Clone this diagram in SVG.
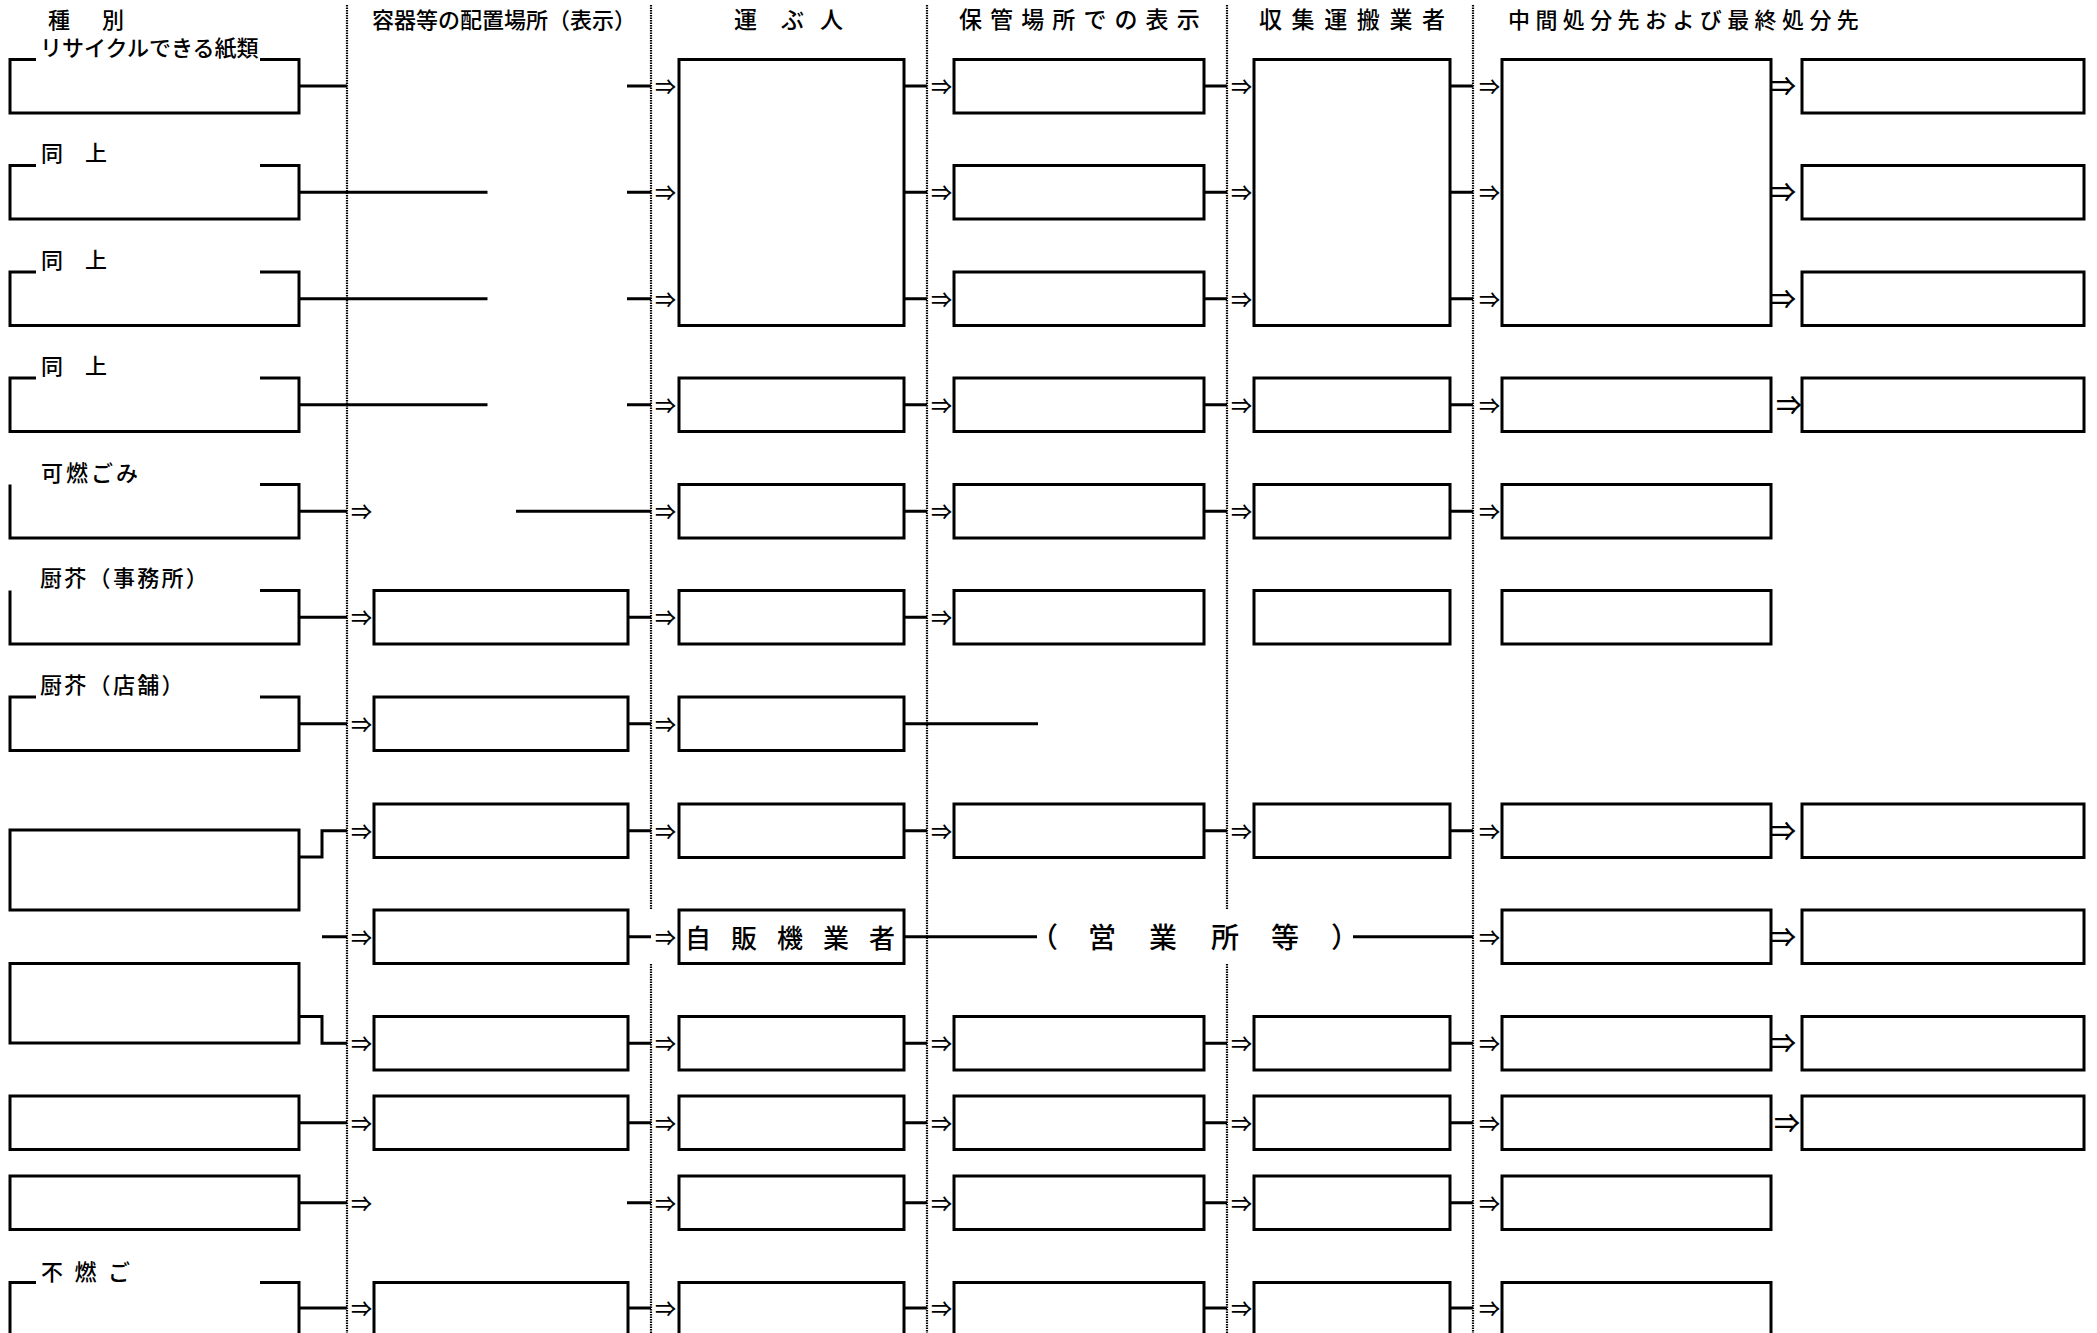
<svg xmlns="http://www.w3.org/2000/svg" width="2097" height="1333" viewBox="0 0 2097 1333">
<style>
.bx{fill:none;stroke:#000;stroke-width:3}
.ln{fill:none;stroke:#000;stroke-width:3}
.dt{fill:none;stroke:#000;stroke-width:2.2;stroke-dasharray:1.5 1}
text{font-family:"Noto Sans CJK JP","Noto Sans CJK SC",sans-serif;fill:#000;font-weight:500}
.h{font-size:22px}
.hb{font-size:23px}
.lb{font-size:22px}
.ar{font-size:21px}
.ab{font-size:26px;font-weight:bold}
</style>
<rect x="0" y="0" width="2097" height="1333" fill="#fff"/>

<g id="guides">
<line class="dt" x1="347" y1="5" x2="347" y2="1333"/>
<line class="dt" x1="651" y1="5" x2="651" y2="909"/>
<line class="dt" x1="651" y1="964" x2="651" y2="1333"/>
<line class="dt" x1="927" y1="5" x2="927" y2="1333"/>
<line class="dt" x1="1227" y1="5" x2="1227" y2="909"/>
<line class="dt" x1="1227" y1="964" x2="1227" y2="1333"/>
<line class="dt" x1="1473" y1="5" x2="1473" y2="1333"/>
</g>

<g id="headers">
<text class="h" x="48 102" y="27.5">種別</text>
<text class="h" x="372" y="28">容器等の配置場所（表示）</text>
<text class="hb" x="734 781 820" y="28">運ぶ人</text>
<text class="hb" x="959" y="28" letter-spacing="8.1">保管場所での表示</text>
<text class="hb" x="1259" y="28" letter-spacing="9.6">収集運搬業者</text>
<text class="h" x="1508" y="28" letter-spacing="5.4">中間処分先および最終処分先</text>
</g>

<!-- Column A (種別) -->
<g id="a1"><path class="bx" d="M36,59.5 H10 V113 H299 V59.5 H260"/><text class="lb" x="40" y="55.5" font-size="21.5">リサイクルできる紙類</text></g>
<g id="a2"><path class="bx" d="M36,165.5 H10 V219 H299 V165.5 H260"/><text class="lb" x="41" y="161">同　上</text></g>
<g id="a3"><path class="bx" d="M36,272 H10 V325.5 H299 V272 H260"/><text class="lb" x="41" y="268">同　上</text></g>
<g id="a4"><path class="bx" d="M36,378 H10 V431.5 H299 V378 H260"/><text class="lb" x="41" y="374">同　上</text></g>
<g id="a5"><path class="bx" d="M10,484.5 V538 H299 V484.5 H260"/><text class="lb" x="41" y="480.5" font-size="24" letter-spacing="3">可燃ごみ</text></g>
<g id="a6"><path class="bx" d="M10,590.5 V644 H299 V590.5 H260"/><text class="lb" x="40" y="586" letter-spacing="2.3">厨芥（事務所）</text></g>
<g id="a7"><path class="bx" d="M36,697 H10 V750.5 H299 V697 H260"/><text class="lb" x="40" y="693" letter-spacing="2.3">厨芥（店舗）</text></g>
<g id="a8"><rect class="bx" x="10" y="830" width="289" height="80"/></g>
<g id="a10"><rect class="bx" x="10" y="963.5" width="289" height="79.5"/></g>
<g id="a11"><rect class="bx" x="10" y="1096" width="289" height="53.5"/></g>
<g id="a12"><rect class="bx" x="10" y="1176" width="289" height="53.5"/></g>
<g id="a13"><path class="bx" d="M36,1282.5 H10 V1340 M299,1340 V1282.5 H260"/><text class="lb" x="41" y="1279.5" font-size="26" letter-spacing="11.5">不燃ご</text></g>

<!-- Column B (容器等) -->
<g id="b6"><rect class="bx" x="374" y="590.5" width="254" height="53.5"/></g>
<g id="b7"><rect class="bx" x="374" y="697" width="254" height="53.5"/></g>
<g id="b8"><rect class="bx" x="374" y="804" width="254" height="53.5"/></g>
<g id="b9"><rect class="bx" x="374" y="910" width="254" height="53.5"/></g>
<g id="b10"><rect class="bx" x="374" y="1016.5" width="254" height="53.5"/></g>
<g id="b11"><rect class="bx" x="374" y="1096" width="254" height="53.5"/></g>
<g id="b13"><rect class="bx" x="374" y="1282.5" width="254" height="80"/></g>

<!-- Column C (運ぶ人) -->
<g id="c1"><rect class="bx" x="679" y="59.5" width="225" height="266"/></g>
<g id="c4"><rect class="bx" x="679" y="378" width="225" height="53.5"/></g>
<g id="c5"><rect class="bx" x="679" y="484.5" width="225" height="53.5"/></g>
<g id="c6"><rect class="bx" x="679" y="590.5" width="225" height="53.5"/></g>
<g id="c7"><rect class="bx" x="679" y="697" width="225" height="53.5"/></g>
<g id="c8"><rect class="bx" x="679" y="804" width="225" height="53.5"/></g>
<g id="c9"><rect class="bx" x="679" y="910" width="225" height="53.5"/><text x="685" y="948" font-size="26" letter-spacing="20">自販機業者</text></g>
<g id="c10"><rect class="bx" x="679" y="1016.5" width="225" height="53.5"/></g>
<g id="c11"><rect class="bx" x="679" y="1096" width="225" height="53.5"/></g>
<g id="c12"><rect class="bx" x="679" y="1176" width="225" height="53.5"/></g>
<g id="c13"><rect class="bx" x="679" y="1282.5" width="225" height="80"/></g>

<!-- Column D (保管場所) -->
<g id="d1"><rect class="bx" x="954" y="59.5" width="250" height="53.5"/></g>
<g id="d2"><rect class="bx" x="954" y="165.5" width="250" height="53.5"/></g>
<g id="d3"><rect class="bx" x="954" y="272" width="250" height="53.5"/></g>
<g id="d4"><rect class="bx" x="954" y="378" width="250" height="53.5"/></g>
<g id="d5"><rect class="bx" x="954" y="484.5" width="250" height="53.5"/></g>
<g id="d6"><rect class="bx" x="954" y="590.5" width="250" height="53.5"/></g>
<g id="d8"><rect class="bx" x="954" y="804" width="250" height="53.5"/></g>
<g id="d10"><rect class="bx" x="954" y="1016.5" width="250" height="53.5"/></g>
<g id="d11"><rect class="bx" x="954" y="1096" width="250" height="53.5"/></g>
<g id="d12"><rect class="bx" x="954" y="1176" width="250" height="53.5"/></g>
<g id="d13"><rect class="bx" x="954" y="1282.5" width="250" height="80"/></g>

<!-- Column E (収集運搬業者) -->
<g id="e1"><rect class="bx" x="1254" y="59.5" width="196" height="266"/></g>
<g id="e4"><rect class="bx" x="1254" y="378" width="196" height="53.5"/></g>
<g id="e5"><rect class="bx" x="1254" y="484.5" width="196" height="53.5"/></g>
<g id="e6"><rect class="bx" x="1254" y="590.5" width="196" height="53.5"/></g>
<g id="e8"><rect class="bx" x="1254" y="804" width="196" height="53.5"/></g>
<g id="e10"><rect class="bx" x="1254" y="1016.5" width="196" height="53.5"/></g>
<g id="e11"><rect class="bx" x="1254" y="1096" width="196" height="53.5"/></g>
<g id="e12"><rect class="bx" x="1254" y="1176" width="196" height="53.5"/></g>
<g id="e13"><rect class="bx" x="1254" y="1282.5" width="196" height="80"/></g>

<!-- Column F (中間処分先) -->
<g id="f1"><rect class="bx" x="1502" y="59.5" width="269" height="266"/></g>
<g id="f4"><rect class="bx" x="1502" y="378" width="269" height="53.5"/></g>
<g id="f5"><rect class="bx" x="1502" y="484.5" width="269" height="53.5"/></g>
<g id="f6"><rect class="bx" x="1502" y="590.5" width="269" height="53.5"/></g>
<g id="f8"><rect class="bx" x="1502" y="804" width="269" height="53.5"/></g>
<g id="f9"><rect class="bx" x="1502" y="910" width="269" height="53.5"/></g>
<g id="f10"><rect class="bx" x="1502" y="1016.5" width="269" height="53.5"/></g>
<g id="f11"><rect class="bx" x="1502" y="1096" width="269" height="53.5"/></g>
<g id="f12"><rect class="bx" x="1502" y="1176" width="269" height="53.5"/></g>
<g id="f13"><rect class="bx" x="1502" y="1282.5" width="269" height="80"/></g>

<!-- Column G (最終処分先) -->
<g id="g1"><rect class="bx" x="1802" y="59.5" width="282" height="53.5"/></g>
<g id="g2"><rect class="bx" x="1802" y="165.5" width="282" height="53.5"/></g>
<g id="g3"><rect class="bx" x="1802" y="272" width="282" height="53.5"/></g>
<g id="g4"><rect class="bx" x="1802" y="378" width="282" height="53.5"/></g>
<g id="g8"><rect class="bx" x="1802" y="804" width="282" height="53.5"/></g>
<g id="g9"><rect class="bx" x="1802" y="910" width="282" height="53.5"/></g>
<g id="g10"><rect class="bx" x="1802" y="1016.5" width="282" height="53.5"/></g>
<g id="g11"><rect class="bx" x="1802" y="1096" width="282" height="53.5"/></g>

<g id="connectors">
<path class="ln" d="M299,86 H347 M627,86 H651 M904,86 H927 M1204,86 H1227 M1450,86 H1473"/>
<path class="ln" d="M299,192.25 H487.5 M627,192.25 H651 M904,192.25 H927 M1204,192.25 H1227 M1450,192.25 H1473"/>
<path class="ln" d="M299,298.75 H487.5 M627,298.75 H651 M904,298.75 H927 M1204,298.75 H1227 M1450,298.75 H1473"/>
<path class="ln" d="M299,404.75 H487.5 M627,404.75 H651 M904,404.75 H927 M1204,404.75 H1227 M1450,404.75 H1473"/>
<path class="ln" d="M299,511.25 H347 M516,511.25 H651 M904,511.25 H927 M1204,511.25 H1227 M1450,511.25 H1473"/>
<path class="ln" d="M299,617.25 H347 M628,617.25 H651 M904,617.25 H927"/>
<path class="ln" d="M299,723.75 H347 M628,723.75 H651 M904,723.75 H1038"/>
<path class="ln" d="M299,857 H322 V830.75 H347 M628,830.75 H651 M904,830.75 H927 M1204,830.75 H1227 M1450,830.75 H1473"/>
<path class="ln" d="M322,936.75 H347 M628,936.75 H651 M904,936.75 H1037 M1353,936.75 H1473"/>
<path class="ln" d="M299,1016.5 H322 V1043.25 H347 M628,1043.25 H651 M904,1043.25 H927 M1204,1043.25 H1227 M1450,1043.25 H1473"/>
<path class="ln" d="M299,1122.75 H347 M628,1122.75 H651 M904,1122.75 H927 M1204,1122.75 H1227 M1450,1122.75 H1473"/>
<path class="ln" d="M299,1202.75 H347 M627,1202.75 H651 M904,1202.75 H927 M1204,1202.75 H1227 M1450,1202.75 H1473"/>
<path class="ln" d="M299,1308 H347 M628,1308 H651 M904,1308 H927 M1204,1308 H1227 M1450,1308 H1473"/>
<text font-size="28" x="1030 1088 1149 1211 1271 1331" y="948">（営業所等）</text>
<g class="ar">
<text x="655" y="94">⇒</text><text x="931" y="94">⇒</text><text x="1231" y="94">⇒</text><text x="1479" y="94">⇒</text>
<text x="655" y="200">⇒</text><text x="931" y="200">⇒</text><text x="1231" y="200">⇒</text><text x="1479" y="200">⇒</text>
<text x="655" y="307">⇒</text><text x="931" y="307">⇒</text><text x="1231" y="307">⇒</text><text x="1479" y="307">⇒</text>
<text x="655" y="413">⇒</text><text x="931" y="413">⇒</text><text x="1231" y="413">⇒</text><text x="1479" y="413">⇒</text>
<text x="351" y="519">⇒</text><text x="655" y="519">⇒</text><text x="931" y="519">⇒</text><text x="1231" y="519">⇒</text><text x="1479" y="519">⇒</text>
<text x="351" y="625">⇒</text><text x="655" y="625">⇒</text><text x="931" y="625">⇒</text>
<text x="351" y="732">⇒</text><text x="655" y="732">⇒</text>
<text x="351" y="839">⇒</text><text x="655" y="839">⇒</text><text x="931" y="839">⇒</text><text x="1231" y="839">⇒</text><text x="1479" y="839">⇒</text>
<text x="351" y="945">⇒</text><text x="655" y="945">⇒</text><text x="1479" y="945">⇒</text>
<text x="351" y="1051">⇒</text><text x="655" y="1051">⇒</text><text x="931" y="1051">⇒</text><text x="1231" y="1051">⇒</text><text x="1479" y="1051">⇒</text>
<text x="351" y="1131">⇒</text><text x="655" y="1131">⇒</text><text x="931" y="1131">⇒</text><text x="1231" y="1131">⇒</text><text x="1479" y="1131">⇒</text>
<text x="351" y="1211">⇒</text><text x="655" y="1211">⇒</text><text x="931" y="1211">⇒</text><text x="1231" y="1211">⇒</text><text x="1479" y="1211">⇒</text>
<text x="351" y="1316">⇒</text><text x="655" y="1316">⇒</text><text x="931" y="1316">⇒</text><text x="1231" y="1316">⇒</text><text x="1479" y="1316">⇒</text>
</g>
<g class="ab">
<text x="1770" y="96">⇒</text>
<text x="1770" y="202">⇒</text>
<text x="1770" y="309">⇒</text>
<text x="1776" y="415">⇒</text>
<text x="1770" y="841">⇒</text>
<text x="1770" y="947">⇒</text>
<text x="1770" y="1053">⇒</text>
<text x="1774" y="1133">⇒</text>
</g>
</g>
</svg>
